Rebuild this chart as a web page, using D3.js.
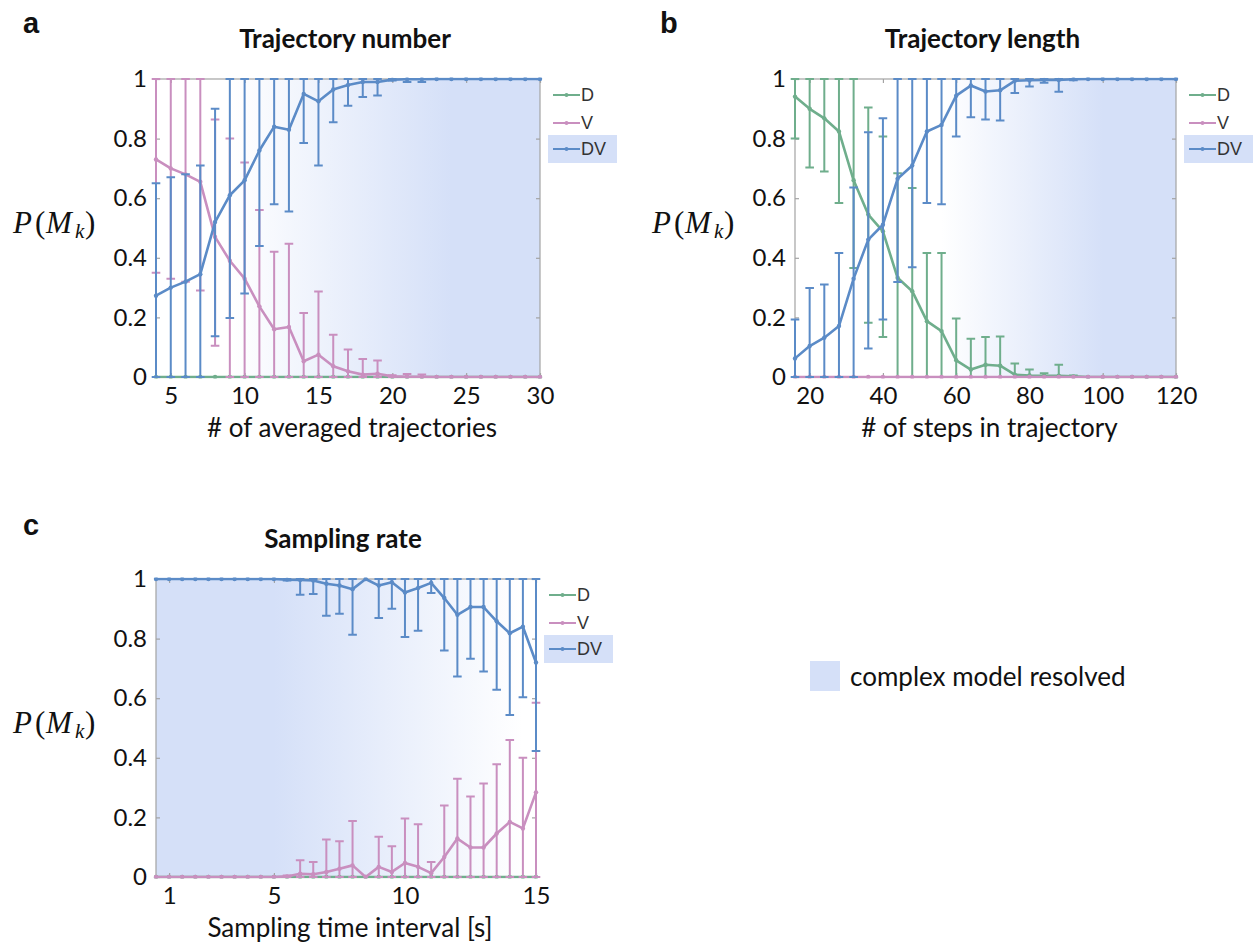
<!DOCTYPE html>
<html>
<head>
<meta charset="utf-8">
<script src="https://cdn.jsdelivr.net/npm/d3@7"></script>
<style>
  body { margin: 0; background: #fff; }
  svg { display: block; font-family: Lato, "Open Sans", sans-serif; }
</style>
</head>
<body>
<svg id="fig" width="1253" height="948"></svg>
<script>
// ---- panel a : trajectory number ----
var aX = [4,5,6,7,8,9,10,11,12,13,14,15,16,17,18,19,20,21,22,23,24,25,26,27,28,29,30];
var aD = [0,0,0,0,0,0,0,0,0,0,0,0,0,0,0,0,0,0,0,0,0,0,0,0,0,0,0];
var aV = [0.73,0.70,0.68,0.655,0.47,0.39,0.33,0.237,0.16,0.168,0.053,0.075,0.036,0.019,0.008,0.011,0.002,0.001,0.001,0,0,0,0,0,0,0,0];
var aVlo = [0.35,0.33,0.32,0.29,0.105,0,0,0,0,0,0,0,0,0,0,0,0,0,0,0,0,0,0,0,0,0,0];
var aVhi = [1,1,1,1,0.864,0.80,0.72,0.56,0.42,0.447,0.215,0.287,0.142,0.092,0.06,0.055,0.006,0.01,0.008,0,0,0,0,0,0,0,0];
var aDV = [0.273,0.30,0.32,0.345,0.52,0.61,0.66,0.76,0.84,0.83,0.95,0.925,0.965,0.98,0.99,0.99,0.998,0.999,0.999,1,1,1,1,1,1,1,1];
var aDVlo = [0,0,0,0,0.137,0.198,0.28,0.44,0.58,0.555,0.785,0.71,0.855,0.91,0.94,0.945,0.995,0.99,0.99,1,1,1,1,1,1,1,1];
var aDVhi = [0.65,0.67,0.68,0.71,0.90,1,1,1,1,1,1,1,1,1,1,1,1,1,1,1,1,1,1,1,1,1,1];
var aTicks = [5,10,15,20,25,30];

// ---- panel b : trajectory length ----
var bX = [16,20,24,28,32,36,40,44,48,52,56,60,64,68,72,76,80,84,88,92,96,100,104,108,112,116,120];
var bD = [0.941,0.90,0.868,0.824,0.66,0.545,0.489,0.333,0.288,0.1875,0.154,0.056,0.025,0.041,0.038,0.008,0.005,0.004,0.004,0.002,0,0,0,0,0,0,0];
var bDlo = [0.80,0.703,0.69,0.584,0.366,0.182,0.134,0,0,0,0,0,0,0,0,0,0,0,0,0,0,0,0,0,0,0,0];
var bDhi = [1,1,1,1,1,0.904,0.807,0.684,0.634,0.416,0.416,0.196,0.128,0.134,0.136,0.045,0.025,0.013,0.041,0.005,0,0,0,0,0,0,0];
var bV = [0,0,0,0,0,0,0,0,0,0,0,0,0,0,0,0,0,0,0,0,0,0,0,0,0,0,0];
var bDV = [0.0625,0.104,0.132,0.171,0.33,0.461,0.511,0.665,0.71,0.824,0.846,0.944,0.978,0.958,0.962,0.994,0.996,0.997,0.997,0.999,1,1,1,1,1,1,1];
var bDVlo = [0,0,0,0,0,0.096,0.193,0.319,0.368,0.584,0.58,0.807,0.872,0.864,0.861,0.953,0.975,0.987,0.957,0.996,1,1,1,1,1,1,1];
var bDVhi = [0.193,0.299,0.31,0.416,0.636,0.821,0.868,1,1,1,1,1,1,1,1,1,1,1,1,1,1,1,1,1,1,1,1];
var bTicks = [20,40,60,80,100,120];

// ---- panel c : sampling rate ----
var cX = [0.5,1,1.5,2,2.5,3,3.5,4,4.5,5,5.5,6,6.5,7,7.5,8,8.5,9,9.5,10,10.5,11,11.5,12,12.5,13,13.5,14,14.5,15];
var cD = [0,0,0,0,0,0,0,0,0,0,0,0,0,0,0,0,0,0,0,0,0,0,0,0,0,0,0,0,0,0];
var cV = [0,0,0,0,0,0,0,0,0,0,0.002,0.011,0.009,0.017,0.028,0.039,0,0.034,0.017,0.047,0.034,0.013,0.067,0.129,0.099,0.099,0.146,0.185,0.163,0.284];
var cVlo = [0,0,0,0,0,0,0,0,0,0,0,0,0,0,0,0,0,0,0,0,0,0,0,0,0,0,0,0,0,0];
var cVhi = [0,0,0,0,0,0,0,0,0,0,0.005,0.056,0.05,0.126,0.12,0.188,0,0.135,0.103,0.196,0.177,0.05,0.24,0.33,0.27,0.314,0.378,0.46,0.40,0.585];
var cDV = [1,1,1,1,1,1,1,1,1,1,0.998,0.997,0.995,0.984,0.978,0.966,1,0.978,0.989,0.955,0.97,0.987,0.936,0.88,0.906,0.906,0.858,0.818,0.84,0.72];
var cDVlo = [1,1,1,1,1,1,1,1,1,1,0.995,0.947,0.95,0.877,0.883,0.813,1,0.869,0.90,0.805,0.826,0.953,0.76,0.673,0.732,0.69,0.628,0.544,0.603,0.423];
var cDVhi = [1,1,1,1,1,1,1,1,1,1,1,1,1,1,1,1,1,1,1,1,1,1,1,1,1,1,1,1,1,1];
var cTicks = [1,5,10,15];

var yTicks = [0,0.2,0.4,0.6,0.8,1];
var modelNames = ["D","V","DV"];

// colours
var colD = "#6fae8c", colV = "#c98fbf", colDV = "#5b8bc7";
var resolvedFill = "#d5e0f8";
var frameCol = "#a3a3a3";

var svg = d3.select("#fig");
var defs = svg.append("defs");

var panels = [
  { id: "a", letter: [23, 33], title: "Trajectory number", xlabel: "# of averaged trajectories",
    left: 156, right: 540, top: 79, bottom: 377, domain: [4, 30], ticks: aTicks,
    grad: [9, 24], gradCols: ["#ffffff", resolvedFill],
    series: [
      { name: "D",  col: colD,  x: aX, m: aD,  lo: aD,    hi: aD },
      { name: "V",  col: colV,  x: aX, m: aV,  lo: aVlo,  hi: aVhi },
      { name: "DV", col: colDV, x: aX, m: aDV, lo: aDVlo, hi: aDVhi }
    ] },
  { id: "b", letter: [660, 33], title: "Trajectory length", xlabel: "# of steps in trajectory",
    left: 795, right: 1176, top: 79, bottom: 377, domain: [16, 120], ticks: bTicks,
    grad: [56, 100], gradCols: ["#ffffff", resolvedFill],
    series: [
      { name: "D",  col: colD,  x: bX, m: bD,  lo: bDlo,  hi: bDhi },
      { name: "V",  col: colV,  x: bX, m: bV,  lo: bV,    hi: bV },
      { name: "DV", col: colDV, x: bX, m: bDV, lo: bDVlo, hi: bDVhi }
    ] },
  { id: "c", letter: [23, 535], title: "Sampling rate", xlabel: "Sampling time interval [s]",
    left: 156, right: 536, top: 579, bottom: 877, domain: [0.5, 15], ticks: cTicks,
    grad: [5, 14.5], gradCols: [resolvedFill, "#ffffff"],
    series: [
      { name: "D",  col: colD,  x: cX, m: cD,  lo: cD,    hi: cD },
      { name: "V",  col: colV,  x: cX, m: cV,  lo: cVlo,  hi: cVhi },
      { name: "DV", col: colDV, x: cX, m: cDV, lo: cDVlo, hi: cDVhi }
    ] }
];

panels.forEach(drawPanel);

function drawPanel(p) {
  var g = svg.append("g").attr("class", "panel-" + p.id);
  var x = d3.scaleLinear().domain(p.domain).range([p.left, p.right]);
  var y = d3.scaleLinear().domain([0, 1]).range([p.bottom, p.top]);
  var w = p.right - p.left, h = p.bottom - p.top;

  // background gradient (resolved region)
  var lg = defs.append("linearGradient").attr("id", "grad-" + p.id)
    .attr("gradientUnits", "userSpaceOnUse")
    .attr("x1", x(p.grad[0])).attr("x2", x(p.grad[1])).attr("y1", 0).attr("y2", 0);
  lg.append("stop").attr("offset", 0).attr("stop-color", p.gradCols[0]);
  lg.append("stop").attr("offset", 1).attr("stop-color", p.gradCols[1]);
  g.append("rect").attr("x", p.left).attr("y", p.top).attr("width", w).attr("height", h)
    .attr("fill", "url(#grad-" + p.id + ")");

  defs.append("clipPath").attr("id", "clip-" + p.id)
    .append("rect").attr("x", p.left - 6).attr("y", p.top - 1.5).attr("width", w + 12).attr("height", h + 3);

  // frame + inward ticks
  g.append("rect").attr("x", p.left).attr("y", p.top).attr("width", w).attr("height", h)
    .attr("fill", "none").attr("stroke", frameCol).attr("stroke-width", 1.2);

  var yAxis = d3.axisLeft(y).tickValues(yTicks).tickFormat(function (d) { return String(d); })
    .tickSizeInner(-4).tickSizeOuter(0).tickPadding(9);
  var gy = g.append("g").attr("transform", "translate(" + p.left + ",0)").call(yAxis);
  var yRight = d3.axisRight(y).tickValues(yTicks).tickFormat("").tickSizeInner(-4).tickSizeOuter(0);
  var gyr = g.append("g").attr("transform", "translate(" + p.right + ",0)").call(yRight);

  var xAxis = d3.axisBottom(x).tickValues(p.ticks).tickFormat(function (d) { return String(d); })
    .tickSizeInner(-4).tickSizeOuter(0).tickPadding(10);
  var gx = g.append("g").attr("transform", "translate(0," + p.bottom + ")").call(xAxis);
  var xTop = d3.axisTop(x).tickValues(p.ticks).tickFormat("").tickSizeInner(-4).tickSizeOuter(0);
  var gxt = g.append("g").attr("transform", "translate(0," + p.top + ")").call(xTop);

  [gy, gyr, gx, gxt].forEach(function (ax) {
    ax.select(".domain").remove();
    ax.selectAll(".tick line").attr("stroke", frameCol).attr("stroke-width", 1.2);
    ax.selectAll(".tick text").attr("font-size", 24).attr("fill", "#111")
      .attr("font-family", "Lato, sans-serif");
  });

  // series: error bars, line, points
  var plot = g.append("g").attr("clip-path", "url(#clip-" + p.id + ")");
  var capHalf = 4.3;
  p.series.forEach(function (s) {
    var pts = s.x.map(function (xv, i) { return { x: xv, m: s.m[i], lo: s.lo[i], hi: s.hi[i] }; });
    var bars = plot.append("g").attr("stroke", s.col).attr("stroke-width", 2).attr("fill", "none");
    var withBar = pts.filter(function (d) { return d.hi - d.lo > 0.003; });
    bars.selectAll("line.bar").data(withBar).enter().append("line").attr("class", "bar")
      .attr("x1", function (d) { return x(d.x); }).attr("x2", function (d) { return x(d.x); })
      .attr("y1", function (d) { return y(d.lo); }).attr("y2", function (d) { return y(d.hi); });
    bars.selectAll("line.caplo").data(withBar).enter().append("line").attr("class", "caplo")
      .attr("x1", function (d) { return x(d.x) - capHalf; }).attr("x2", function (d) { return x(d.x) + capHalf; })
      .attr("y1", function (d) { return y(d.lo); }).attr("y2", function (d) { return y(d.lo); });
    bars.selectAll("line.caphi").data(withBar).enter().append("line").attr("class", "caphi")
      .attr("x1", function (d) { return x(d.x) - capHalf; }).attr("x2", function (d) { return x(d.x) + capHalf; })
      .attr("y1", function (d) { return y(d.hi); }).attr("y2", function (d) { return y(d.hi); });

    var line = d3.line().x(function (d) { return x(d.x); }).y(function (d) { return y(d.m); });
    plot.append("path").datum(pts).attr("d", line).attr("fill", "none")
      .attr("stroke", s.col).attr("stroke-width", 2.6).attr("stroke-linejoin", "round");
    plot.append("g").selectAll("circle").data(pts).enter().append("circle")
      .attr("cx", function (d) { return x(d.x); }).attr("cy", function (d) { return y(d.m); })
      .attr("r", 2.2).attr("fill", s.col);
  });

  // panel letter, title, axis label
  var cx = (p.left + p.right) / 2;
  svg.append("text").attr("x", p.letter[0]).attr("y", p.letter[1]).text(p.id)
    .attr("font-family", "'Liberation Sans', Arial, sans-serif").attr("font-weight", "bold")
    .attr("font-size", 29).attr("fill", "#111");
  svg.append("text").attr("x", cx - 3).attr("y", p.top - 31).text(p.title)
    .attr("text-anchor", "middle").attr("font-weight", "bold").attr("font-size", 26).attr("fill", "#111");
  svg.append("text").attr("x", cx + 4).attr("y", p.bottom + 60).text(p.xlabel)
    .attr("text-anchor", "middle").attr("font-size", 26).attr("fill", "#111");

  // y label P(M_k)
  var yl = svg.append("text").attr("y", p.top + 154)
    .attr("font-family", "'Liberation Serif', 'DejaVu Serif', serif").attr("font-size", 31).attr("fill", "#111");
  var x0 = p.left - 143;
  yl.append("tspan").attr("x", x0).attr("font-style", "italic").text("P");
  yl.append("tspan").attr("x", x0 + 22).text("(");
  yl.append("tspan").attr("x", x0 + 33).attr("font-style", "italic").text("M");
  yl.append("tspan").attr("x", x0 + 62).attr("dy", 5).attr("font-size", 21).attr("font-style", "italic").text("k");
  yl.append("tspan").attr("x", x0 + 72).attr("dy", -5).text(")");

  // legend
  var lgX = p.right + 13;
  var rows = [p.top + 16, p.top + 44, p.top + 70];
  g.append("rect").attr("x", lgX - 5).attr("y", rows[2] - 14).attr("width", 69).attr("height", 28)
    .attr("fill", resolvedFill);
  p.series.forEach(function (s, i) {
    var ly = rows[i];
    g.append("line").attr("x1", lgX).attr("x2", lgX + 27).attr("y1", ly).attr("y2", ly)
      .attr("stroke", s.col).attr("stroke-width", 2);
    g.append("circle").attr("cx", lgX + 13.5).attr("cy", ly).attr("r", 2).attr("fill", s.col);
    g.append("text").attr("x", lgX + 28).attr("y", ly).attr("dy", "0.36em").text(modelNames[i])
      .attr("font-family", "'Liberation Sans', Arial, sans-serif").attr("font-size", 18).attr("fill", "#333");
  });
}

// shared legend for the shaded region
svg.append("rect").attr("x", 810).attr("y", 661).attr("width", 30).attr("height", 30).attr("fill", resolvedFill);
svg.append("text").attr("x", 850).attr("y", 686).text("complex model resolved")
  .attr("font-size", 26).attr("fill", "#111");
</script>
</body>
</html>
